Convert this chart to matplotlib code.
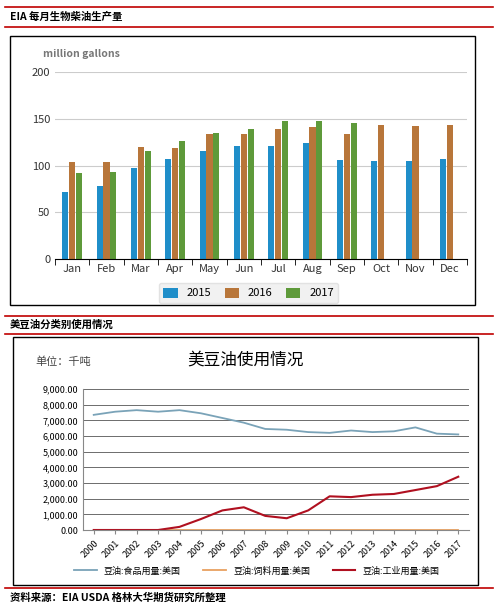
import numpy as np
import matplotlib
matplotlib.use("Agg")
import matplotlib.pyplot as plt
from matplotlib.patches import Rectangle
from matplotlib.lines import Line2D

plt.rcParams['font.family'] = ['Noto Sans CJK SC', 'DejaVu Sans']

# top chart data: EIA monthly biodiesel production (million gallons)
months = ["Jan", "Feb", "Mar", "Apr", "May", "Jun", "Jul", "Aug", "Sep", "Oct", "Nov", "Dec"]
prod_2015 = [72, 78, 97, 107, 116, 121, 121, 124, 106, 105, 105, 107]
prod_2016 = [104, 104, 120, 119, 134, 134, 139, 141, 134, 143, 142, 143]
prod_2017 = [92, 93, 115, 126, 135, 139, 148, 148, 145, np.nan, np.nan, np.nan]

# bottom chart data: US soybean oil use (thousand tonnes)
years = [str(y) for y in range(2000, 2018)]
food_use = [7350, 7550, 7650, 7550, 7650, 7450, 7150, 6850, 6450, 6400, 6250,
            6200, 6350, 6250, 6300, 6550, 6150, 6100]
feed_use = [10, 10, 10, 10, 10, 10, 10, 10, 10, 10, 10, 10, 10, 10, 10, 10, 10, 10]
industrial_use = [0, 0, 0, 0, 200, 700, 1250, 1450, 900, 750, 1250, 2150, 2100,
                  2250, 2300, 2550, 2800, 3400]

W, H = 500, 615
fig = plt.figure(figsize=(5.0, 6.15), dpi=100)


def fx(px):
    return px / W


def fy(py):
    return 1 - py / H


def hline(py, x0=5, x1=493):
    fig.add_artist(Line2D([fx(x0), fx(x1)], [fy(py), fy(py)], color="#c00000", lw=1.2))


def box(x0, y0, x1, y1):
    fig.add_artist(Rectangle((fx(x0), fy(y1)), fx(x1 - x0), (y1 - y0) / H,
                             fill=False, ec="black", lw=1.0))


# section headers
hline(7)
fig.text(fx(10), fy(17), "EIA 每月生物柴油生产量", fontsize=7.5, fontweight="bold", va="center")
hline(27)
hline(316)
fig.text(fx(10), fy(325), "美豆油分类别使用情况", fontsize=7.5, fontweight="bold", va="center")
hline(334)
hline(588)
fig.text(fx(10), fy(598), "资料来源：EIA USDA 格林大华期货研究所整理", fontsize=7.5,
         fontweight="bold", va="center")

# ---- top bar chart
box(10, 36, 475, 305)
ax1 = fig.add_axes([fx(55), fy(259), fx(467 - 55), (259 - 72) / H])
x = np.arange(len(months))
w = 0.2
ax1.bar(x - w, prod_2015, w * 0.9, color="#1f8ec9", label="2015")
ax1.bar(x, prod_2016, w * 0.9, color="#b8763a", label="2016")
ax1.bar(x + w, prod_2017, w * 0.9, color="#5e9a3a", label="2017")
ax1.set_xlim(-0.5, 11.5)
ax1.set_ylim(0, 200)
ax1.set_yticks([0, 50, 100, 150, 200])
ax1.set_xticks(x)
ax1.set_xticklabels(months)
ax1.grid(axis="y", color="#cccccc", lw=0.8)
ax1.set_axisbelow(True)
for s in ["top", "right", "left"]:
    ax1.spines[s].set_visible(False)
ax1.tick_params(axis="y", length=0, labelsize=8, colors="#333333")
ax1.tick_params(axis="x", length=0, labelsize=8, colors="#333333")
ax1.set_xticks(np.arange(-0.5, 12), minor=True)
ax1.tick_params(axis="x", which="minor", length=4, direction="out")
ax1.text(-0.03, 1.08, "million gallons", transform=ax1.transAxes, fontsize=7.5,
         color="#777777", fontweight="bold")
leg = ax1.legend(loc="upper center", bbox_to_anchor=(0.47, -0.1), ncol=3, fontsize=8,
                 frameon=True, handlelength=1.3, handleheight=1.0, columnspacing=1.2)
leg.get_frame().set_facecolor("#eeeeee")
leg.get_frame().set_edgecolor("#dddddd")

# ---- bottom line chart
box(13, 337, 478, 585)
ax2 = fig.add_axes([fx(83), fy(530), fx(469 - 83), (530 - 389) / H])
xi = np.arange(len(years))
ax2.plot(xi, food_use, color="#7aa3b8", lw=1.3, label="豆油:食品用量:美国")
ax2.plot(xi, feed_use, color="#e8a060", lw=1.3, label="豆油:饲料用量:美国")
ax2.plot(xi, industrial_use, color="#b01020", lw=1.5, label="豆油:工业用量:美国")
ax2.set_xlim(-0.5, 17.5)
ax2.set_ylim(0, 9000)
ax2.set_yticks(np.arange(0, 9001, 1000))
ax2.set_yticklabels([f"{v:,.2f}" for v in range(0, 9001, 1000)])
ax2.set_xticks(xi)
ax2.set_xticklabels(years, rotation=45, ha="right", rotation_mode="anchor")
ax2.grid(axis="y", color="#555555", lw=0.6)
for s in ["top", "right"]:
    ax2.spines[s].set_visible(False)
ax2.spines["left"].set_color("#888888")
ax2.spines["bottom"].set_color("#888888")
ax2.tick_params(axis="y", length=0, labelsize=6.5)
ax2.tick_params(axis="x", length=3, labelsize=6.5, color="#888888")
fig.text(fx(245), fy(360), "美豆油使用情况", fontsize=12, ha="center", va="center")
fig.text(fx(35), fy(362), "单位：千吨", fontsize=8, color="#444444", va="center")
ax2.legend(loc="upper center", bbox_to_anchor=(0.45, -0.2), ncol=3, fontsize=6.5,
           frameon=False, handlelength=2.5, columnspacing=2.5)

fig.savefig("out.png", dpi=100)
